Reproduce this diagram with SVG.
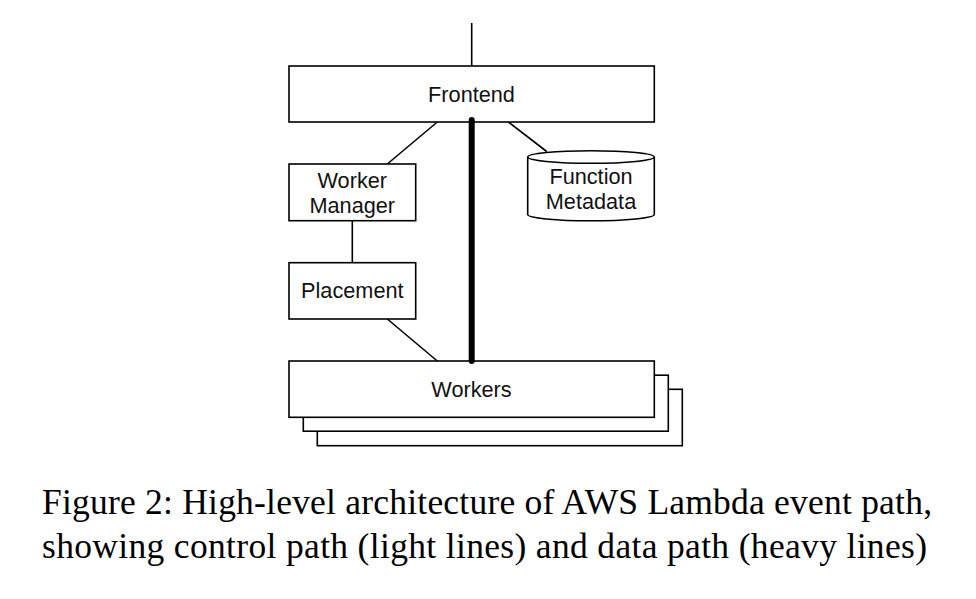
<svg xmlns="http://www.w3.org/2000/svg" width="976" height="599" viewBox="0 0 976 599">
<style>
.box{fill:#fff;stroke:#000;stroke-width:1.6}
.lbl{font-family:"Liberation Sans",Arial,sans-serif;font-size:21.7px;fill:#111;text-anchor:middle}
.thin{stroke:#000;stroke-width:1.6;fill:none}
.thick{stroke:#000;stroke-width:6;stroke-linecap:round;fill:none}
.cap{font-family:"Liberation Serif","Times New Roman",serif;font-size:35.5px;fill:#000}
</style>
<rect width="976" height="599" fill="#fff"/>
<g id="connectors">
<line class="thin" x1="471.7" y1="23" x2="471.7" y2="66"/>
<line class="thin" x1="437.3" y1="122" x2="387.3" y2="164"/>
<line class="thin" x1="508.3" y1="122" x2="546.7" y2="151.5"/>
<line class="thin" x1="352.3" y1="220.7" x2="352.3" y2="262.7"/>
<line class="thin" x1="387.3" y1="319" x2="437.3" y2="361"/>
</g>
<g id="workers">
<rect class="box" x="317.3" y="389.3" width="365" height="56.4"/>
<rect class="box" x="303.3" y="375.2" width="365" height="56"/>
<rect class="box" x="289" y="361" width="365.3" height="56.3"/>
<text class="lbl" x="471.5" y="396.5">Workers</text>
</g>
<g id="frontend">
<rect class="box" x="289" y="66" width="365.3" height="56"/>
<text class="lbl" x="471.5" y="101.5">Frontend</text>
</g>
<g id="worker-manager">
<rect class="box" x="289" y="164" width="126.7" height="56.7"/>
<text class="lbl" x="352.3" y="187.5">Worker</text>
<text class="lbl" x="352.3" y="212.5">Manager</text>
</g>
<g id="placement">
<rect class="box" x="289" y="262.7" width="126.7" height="56.3"/>
<text class="lbl" x="352.3" y="298">Placement</text>
</g>
<g id="function-metadata">
<path class="box" d="M527.7 157 L527.7 214.5 A63.3 6.3 0 0 0 654.3 214.5 L654.3 157 A63.3 6.3 0 0 0 527.7 157 Z"/>
<path class="thin" d="M527.7 157 A63.3 6.3 0 0 0 654.3 157"/>
<text class="lbl" x="591" y="184">Function</text>
<text class="lbl" x="591" y="209">Metadata</text>
</g>
<g id="data-path">
<line class="thick" x1="471.7" y1="120" x2="471.7" y2="361"/>
</g>
<text class="cap" x="42" y="514" textLength="890" lengthAdjust="spacing">Figure 2: High-level architecture of AWS Lambda event path,</text>
<text class="cap" x="42" y="558" textLength="885" lengthAdjust="spacing">showing control path (light lines) and data path (heavy lines)</text>
</svg>
